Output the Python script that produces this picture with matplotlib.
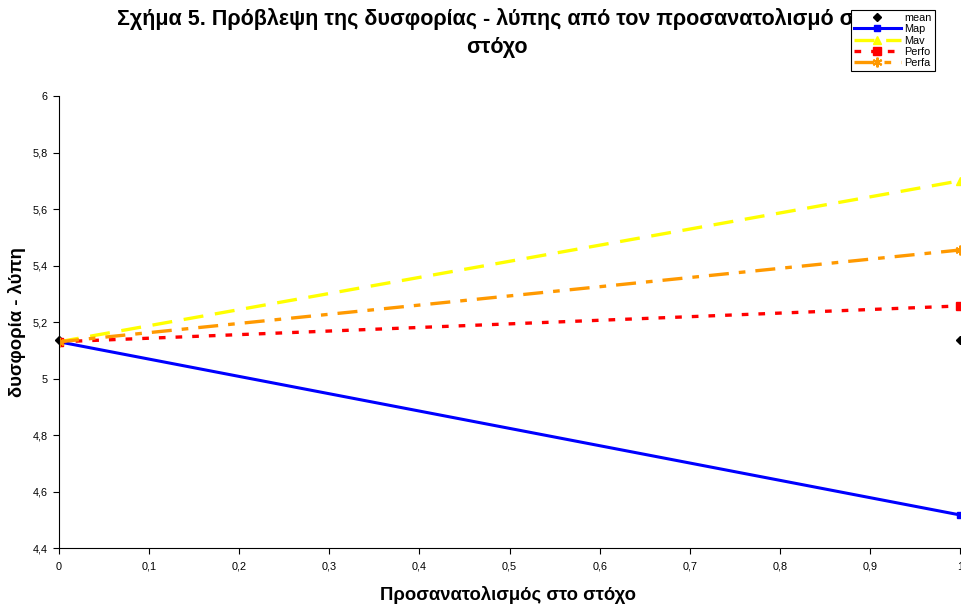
import matplotlib
matplotlib.use("Agg")
import matplotlib.pyplot as plt
from matplotlib.ticker import FuncFormatter

plt.rcParams['font.family'] = ['Liberation Sans', 'DejaVu Sans']

x = [0, 1]
mean = [5.135, 5.135]
map_vals = [5.13, 4.517]
mav_vals = [5.13, 5.70]
perfo_vals = [5.13, 5.257]
perfa_vals = [5.13, 5.455]

x_ticks = [0, 0.1, 0.2, 0.3, 0.4, 0.5, 0.6, 0.7, 0.8, 0.9, 1]
y_ticks = [4.4, 4.6, 4.8, 5.0, 5.2, 5.4, 5.6, 5.8, 6.0]

fig = plt.figure(figsize=(9.62, 6.04), dpi=100)
ax = fig.add_axes([0.0613, 0.0927, 0.9367, 0.7483])

ax.plot(x, mean, linestyle='none', marker='D', color='black', markersize=4, label='mean', clip_on=False, zorder=1)
ax.plot(x, map_vals, color='#0000FF', linewidth=2.2, marker='s', markersize=5, label='Map')
ax.plot(x, mav_vals, color='#FFFF00', linewidth=2.4, linestyle=(0, (6, 3.5)), marker='^', markersize=6, label='Mav')
ax.plot(x, perfo_vals, color='#FF0000', linewidth=2.4, linestyle=(0, (2, 3)), marker='s', markersize=6, label='Perfo')
ax.plot(x, perfa_vals, color='#FF9900', linewidth=2.4, linestyle=(0, (6, 3, 2, 3)), marker=(6, 2, 0), markersize=7,
        markeredgewidth=1.5, label='Perfa')

ax.set_xlim(0, 1)
ax.set_ylim(4.4, 6.0)
ax.set_xticks(x_ticks)
ax.set_yticks(y_ticks)
fmt = FuncFormatter(lambda v, p: ('%g' % round(v, 2)).replace('.', ','))
ax.xaxis.set_major_formatter(fmt)
ax.yaxis.set_major_formatter(fmt)
ax.tick_params(axis='both', labelsize=7.8, length=4, direction='out', width=0.8, colors='black')
ax.tick_params(axis='x', pad=6)
ax.tick_params(axis='y', pad=4)
ax.spines['top'].set_visible(False)
ax.spines['right'].set_visible(False)

ax.set_xlabel('Προσανατολισμός στο στόχο', fontsize=13.3, fontweight='bold')
ax.xaxis.set_label_coords(0.498, -0.103)
ax.xaxis.label.set_va('center')
ax.set_ylabel('δυσφορία - λύπη', fontsize=13.3, fontweight='bold')
ax.yaxis.set_label_coords(-0.047, 0.499)
ax.yaxis.label.set_va('center')

fig.text(0.516, 0.986, 'Σχήμα 5. Πρόβλεψη της δυσφορίας - λύπης από τον προσανατολισμό στο\nστόχο',
         ha='center', va='top', fontsize=15.5, fontweight='bold', linespacing=1.4)

leg = fig.legend(loc='upper left', bbox_to_anchor=(0.8845, 0.984), fontsize=7.8, frameon=True,
                 fancybox=False, edgecolor='black', framealpha=1, borderpad=0.3,
                 labelspacing=0.12, handlelength=4.3, handletextpad=0.35, borderaxespad=0)
leg.get_frame().set_linewidth(0.8)

fig.savefig('out.png', dpi=100)
